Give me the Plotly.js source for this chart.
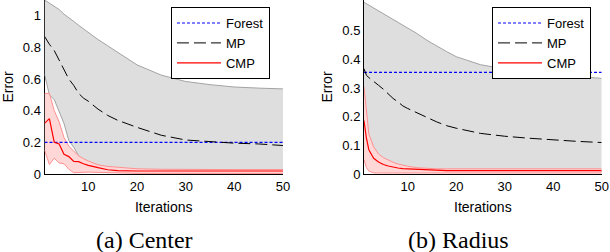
<!DOCTYPE html>
<html>
<head>
<meta charset="utf-8">
<script src="https://cdn.plot.ly/plotly-3.0.1.min.js"></script>
<style>html,body{margin:0;padding:0;background:#fff;}#chart{width:610px;height:252px;}</style>
</head>
<body>
<div id="chart"></div>
<script>
// ---- (a) Center ----
const xC = [1,2,3,4,5,6,7,8,9,10,12,14,16,18,20,25,30,35,40,45,50];
const forestC = [0.2, 0.2];
const forestX = [1, 50];
const mpC      = [0.87,0.82,0.78,0.72,0.66,0.60,0.56,0.51,0.48,0.46,0.41,0.37,0.34,0.315,0.295,0.245,0.215,0.205,0.195,0.19,0.18];
const mpHiC    = [1.10,1.08,1.06,1.04,1.01,0.99,0.965,0.94,0.917,0.895,0.85,0.81,0.77,0.73,0.69,0.625,0.585,0.565,0.55,0.543,0.538];
const mpLoC    = [0.63,0.50,0.47,0.40,0.32,0.21,0.17,0.115,0.09,0.075,0.05,0.04,0.035,0.03,0.028,0.025,0.025,0.025,0.025,0.025,0.025];
const cmpC     = [0.32,0.35,0.20,0.19,0.125,0.11,0.08,0.078,0.065,0.055,0.04,0.027,0.022,0.02,0.019,0.019,0.019,0.019,0.019,0.019,0.019];
const cmpHiC   = [0.51,0.51,0.40,0.33,0.23,0.175,0.145,0.115,0.097,0.082,0.058,0.048,0.043,0.037,0.033,0.030,0.028,0.028,0.028,0.028,0.028];
const cmpLoC   = [0.15,0.06,0.10,0.07,0.065,0.03,0.008,0.01,0.012,0.012,0.01,0.008,0.006,0.005,0.004,0.004,0.004,0.004,0.004,0.004,0.004];

// ---- (b) Radius ----
const xR = [1,1.5,2,3,4,5,6,7,8,9,10,12,14,16,18,20,25,30,35,40,45,50];
const forestR = [0.355, 0.355];
const mpR      = [0.368,0.345,0.337,0.322,0.31,0.296,0.28,0.264,0.252,0.238,0.229,0.213,0.197,0.182,0.169,0.16,0.142,0.132,0.125,0.119,0.114,0.110];
const mpHiR    = [0.60,0.595,0.59,0.58,0.57,0.56,0.55,0.54,0.53,0.52,0.51,0.49,0.467,0.447,0.428,0.41,0.382,0.367,0.358,0.349,0.341,0.334];
const mpLoR    = [0.05,0.04,0.03,0.02,0.018,0.016,0.015,0.014,0.013,0.012,0.012,0.011,0.01,0.01,0.01,0.01,0.009,0.009,0.009,0.008,0.008,0.008];
const cmpR     = [0.187,0.125,0.085,0.055,0.042,0.033,0.028,0.024,0.021,0.019,0.018,0.016,0.014,0.013,0.012,0.0115,0.0115,0.0115,0.0115,0.0115,0.0115,0.0115];
const cmpHiR   = [0.305,0.21,0.14,0.095,0.07,0.057,0.048,0.041,0.035,0.030,0.027,0.022,0.019,0.018,0.018,0.018,0.018,0.018,0.018,0.018,0.018,0.018];
const cmpLoR   = [0.049,0.023,0.01,0.004,0.0035,0.0035,0.0035,0.0035,0.0035,0.0035,0.0035,0.0035,0.0035,0.0035,0.0035,0.0035,0.0035,0.0035,0.0035,0.0035,0.0035,0.0035];

const seriesNames = ['Forest', 'MP', 'CMP'];
const xTicks = [10, 20, 30, 40, 50];
const yTicksC = [0, 0.2, 0.4, 0.6, 0.8, 1];
const yTicksR = [0, 0.1, 0.2, 0.3, 0.4, 0.5];
const captions = ['(a) Center', '(b) Radius'];

const GRAY_FILL = '#dedede', GRAY_LINE = '#a3a3a3';
const PINK_FILL = '#ffd7d7', PINK_LINE = '#ff8f8f';

function panel(x, mp, mpHi, mpLo, cmp, cmpHi, cmpLo, fx, forest, xa, ya, leg) {
  return [
    {x: x, y: mpHi, xaxis: xa, yaxis: ya, mode: 'lines', line: {color: GRAY_LINE, width: 1}, showlegend: false, hoverinfo: 'skip'},
    {x: x, y: mpLo, xaxis: xa, yaxis: ya, mode: 'lines', line: {color: GRAY_LINE, width: 1}, fill: 'tonexty', fillcolor: GRAY_FILL, showlegend: false, hoverinfo: 'skip'},
    {x: x, y: cmpHi, xaxis: xa, yaxis: ya, mode: 'lines', line: {color: PINK_LINE, width: 1}, showlegend: false, hoverinfo: 'skip'},
    {x: x, y: cmpLo, xaxis: xa, yaxis: ya, mode: 'lines', line: {color: PINK_LINE, width: 1}, fill: 'tonexty', fillcolor: PINK_FILL, showlegend: false, hoverinfo: 'skip'},
    {x: fx, y: forest, xaxis: xa, yaxis: ya, mode: 'lines', name: seriesNames[0], legend: leg, line: {color: '#0000ff', width: 1.1, dash: '3px,2px'}},
    {x: x, y: mp, xaxis: xa, yaxis: ya, mode: 'lines', name: seriesNames[1], legend: leg, line: {color: '#000000', width: 1, dash: '12px,5px'}},
    {x: x, y: cmp, xaxis: xa, yaxis: ya, mode: 'lines', name: seriesNames[2], legend: leg, line: {color: '#ff0000', width: 1.2}}
  ];
}

const data = [].concat(
  panel(xC, mpC, mpHiC, mpLoC, cmpC, cmpHiC, cmpLoC, forestX, forestC, 'x', 'y', 'legend'),
  panel(xR, mpR, mpHiR, mpLoR, cmpR, cmpHiR, cmpLoR, forestX, forestR, 'x2', 'y2', 'legend2')
);

const tickFont = {family: 'Liberation Sans, Arial, sans-serif', size: 13, color: '#000'};
const titleFont = {family: 'Liberation Sans, Arial, sans-serif', size: 14, color: '#000'};

function xaxis(domain, anchor) {
  return {domain: domain, anchor: anchor, range: [1, 50], tickvals: xTicks, ticktext: xTicks.map(String),
    showgrid: false, zeroline: false, showline: true, linecolor: '#000', linewidth: 1, layer: 'below traces',
    ticks: '', tickfont: tickFont, title: {text: 'Iterations', font: titleFont, standoff: 9}};
}
function yaxis(range, ticks, anchor) {
  return {domain: [0.3095, 1], anchor: anchor, range: range, tickvals: ticks, ticktext: ticks.map(String),
    showgrid: false, zeroline: false, showline: true, linecolor: '#000', linewidth: 1, layer: 'below traces',
    ticks: '', tickfont: tickFont, title: {text: 'Error', font: titleFont, standoff: 6}};
}
const legFont = {family: 'Liberation Sans, Arial, sans-serif', size: 13, color: '#000'};
function legend(x) {
  return {x: x, y: 0.972, xanchor: 'left', yanchor: 'top', bgcolor: '#fff', bordercolor: '#000', borderwidth: 1,
    font: legFont, itemwidth: 44, traceorder: 'normal', tracegroupgap: 0};
}

const layout = {
  width: 610, height: 252, margin: {l: 0, r: 0, t: 0, b: 0},
  paper_bgcolor: '#fff', plot_bgcolor: '#fff', showlegend: true,
  xaxis: xaxis([0.0730, 0.4639], 'y'),
  yaxis: yaxis([0, 1.1], yTicksC, 'x'),
  xaxis2: xaxis([0.5967, 0.9864], 'y2'),
  yaxis2: yaxis([0, 0.608], yTicksR, 'x2'),
  legend: legend(0.2803),
  legend2: legend(0.8066),
  annotations: [
    {text: captions[0], xref: 'paper', yref: 'paper', x: 0.237, y: 0.048, xanchor: 'center', yanchor: 'middle', showarrow: false,
     font: {family: 'Liberation Serif, Times New Roman, serif', size: 24, color: '#000'}},
    {text: captions[1], xref: 'paper', yref: 'paper', x: 0.752, y: 0.048, xanchor: 'center', yanchor: 'middle', showarrow: false,
     font: {family: 'Liberation Serif, Times New Roman, serif', size: 24, color: '#000'}}
  ]
};

Plotly.newPlot('chart', data, layout, {staticPlot: true, displayModeBar: false});
</script>
</body>
</html>
